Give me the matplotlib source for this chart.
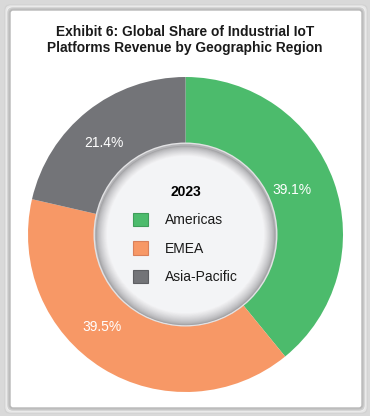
import matplotlib.pyplot as plt
import numpy as np
from matplotlib.patches import FancyBboxPatch, Circle

plt.rcParams['font.family'] = ['Liberation Sans', 'DejaVu Sans']

# data
regions = ['Americas', 'EMEA', 'Asia-Pacific']
shares = [39.1, 39.5, 21.4]
colors = ['#4cbb6c', '#f79866', '#737478']
edges = ['#3f9d5a', '#d9805a', '#5e5f63']
year = '2023'
title = 'Exhibit 6: Global Share of Industrial IoT\nPlatforms Revenue by Geographic Region'

W, H = 370, 416
fig = plt.figure(figsize=(W / 100, H / 100), dpi=100)
fig.patch.set_facecolor('#d9d9d9')

# white panel with rounded frame
bg = fig.add_axes([0, 0, 1, 1])
bg.set_xlim(0, W)
bg.set_ylim(H, 0)
bg.axis('off')
for off, c in [(5, '#d2d2d2'), (4, '#e6e6e6'), (3, '#eeeeee'), (2, '#d0d0d0'), (1, '#c2c2c2')]:
    bg.add_patch(FancyBboxPatch((10 - off, 10 - off), 352 + 2 * off, 398 + 2 * off,
                                boxstyle='round,pad=0,rounding_size=5',
                                fc='none', ec=c, lw=1))
bg.add_patch(FancyBboxPatch((10, 10), 352, 398, boxstyle='round,pad=0,rounding_size=3',
                            fc='white', ec='#b8b8b8', lw=1))
bg.text(W / 2, 40, title, ha='center', va='center', fontsize=9.9,
        fontweight='bold', color='#1a1a1a', linespacing=1.2)

# donut
cx, cy, R = 185.5, 234.5, 157.5
ax = fig.add_axes([(cx - R) / W, (H - cy - R) / H, 2 * R / W, 2 * R / H])
wedges, _ = ax.pie(shares, colors=colors, startangle=90, counterclock=False,
                   radius=1, wedgeprops=dict(lw=0))
ax.set_xlim(-1, 1)
ax.set_ylim(-1, 1)
ax.axis('off')

# percentage labels
nudge = [3, -10, 3]
rad = [0.73, 0.79, 0.78]
for w, s, dn, r in zip(wedges, shares, nudge, rad):
    a = np.deg2rad((w.theta1 + w.theta2) / 2 + dn)
    ax.text(r * np.cos(a), r * np.sin(a), f'{s}%', ha='center', va='center',
            color='white', fontsize=10)

# inner hole with soft inset shading
r_in = 92 / R
ax.add_patch(Circle((0, 0), r_in, fc='#e2e2e4', ec='none'))
ax.add_patch(Circle((0, 0), r_in * 0.985, fc='#b4b4b7', ec='none'))
steps = 16
for i in range(steps):
    t = i / (steps - 1)
    rr = r_in * (0.975 - 0.12 * t)
    v = 0.64 + (0.955 - 0.64) * t ** 0.7
    ax.add_patch(Circle((0, -0.006 * (1 - t)), rr, fc=(v, v, v + 0.01), ec='none'))
ax.add_patch(Circle((0, 0), r_in * 0.85, fc='#f3f4f6', ec='none'))

handles = [plt.Rectangle((0, 0), 1, 1, fc=c, ec=e, lw=0.8) for c, e in zip(colors, edges)]
leg = ax.legend(handles, regions, title=year, loc='center', bbox_to_anchor=(0.5, 0.5),
                frameon=False, fontsize=10, handlelength=1.1, handleheight=1.1,
                handletextpad=1.2, labelspacing=1.0)
leg.get_title().set_fontweight('bold')
leg.get_title().set_fontsize(10)
for t in leg.get_texts():
    t.set_color('#1a1a1a')

fig.savefig('out.png', dpi=100, facecolor=fig.get_facecolor())
